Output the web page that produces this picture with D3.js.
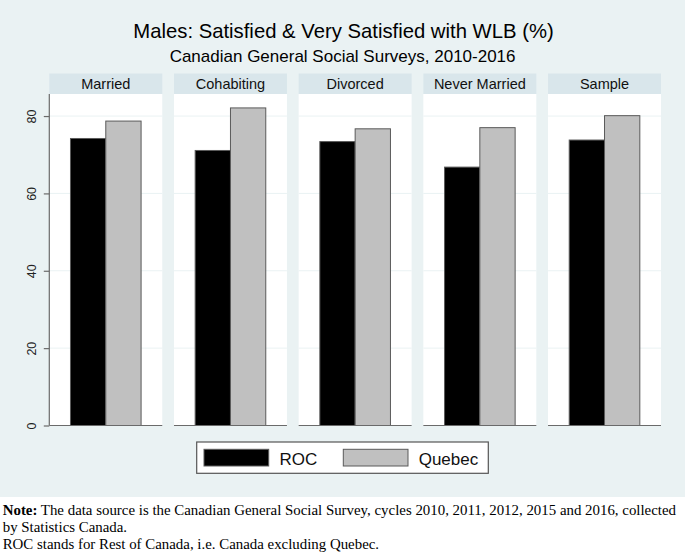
<!DOCTYPE html>
<html><head><meta charset="utf-8">
<script src="https://cdn.jsdelivr.net/npm/d3@7"></script>
<style>html,body{margin:0;padding:0;background:#fff}svg{display:block}</style>
</head><body>
<svg id="chart" width="685" height="557"></svg>
<script>
const categories = ["Married", "Cohabiting", "Divorced", "Never Married", "Sample"];
const series = ["ROC", "Quebec"];
const rocValues = [74.2, 71.1, 73.4, 66.8, 73.8];
const quebecValues = [78.7, 82.1, 76.7, 77.0, 80.1];
const yTicks = [0, 20, 40, 60, 80];
const titleText = "Males: Satisfied & Very Satisfied with WLB (%)";
const subtitleText = "Canadian General Social Surveys, 2010-2016";
const noteLines = [
  ["Note:", " The data source is the Canadian General Social Survey, cycles 2010, 2011, 2012, 2015 and 2016, collected"],
  ["", "by Statistics Canada."],
  ["", "ROC stands for Rest of Canada, i.e. Canada excluding Quebec."]
];

const seriesValues = {ROC: rocValues, Quebec: quebecValues};
const colors = {ROC: "#000000", Quebec: "#c0c0c0"};
const data = categories.map((c, i) => ({cat: c, values: series.map(s => ({key: s, value: seriesValues[s][i]}))}));

const svg = d3.select("#chart");
const sans = "'Liberation Sans', Arial, sans-serif";

// background
svg.append("rect").attr("x", 0).attr("y", 0).attr("width", 685).attr("height", 497).attr("fill", "#eaf2f3");

const plotTop = 94, plotBottom = 425.5, left = 49.3, right = 661;
const y = d3.scaleLinear().domain([0, 85.7]).range([plotBottom, plotTop]);
const x0 = d3.scaleBand().domain(categories).range([left, right]).paddingInner(0.094).paddingOuter(0);
const x1 = d3.scaleBand().domain(series).range([0, x0.bandwidth()]).paddingInner(0).paddingOuter(0.6);

// title
svg.append("text").attr("x", 343.5).attr("y", 37.7).attr("text-anchor", "middle")
  .style("font-family", sans).style("font-size", "20.3px").attr("fill", "#000").text(titleText);
svg.append("text").attr("x", 342.6).attr("y", 61.7).attr("text-anchor", "middle")
  .style("font-family", sans).style("font-size", "17px").attr("fill", "#000").text(subtitleText);

const panels = svg.append("g").selectAll("g").data(data).join("g")
  .attr("transform", d => `translate(${x0(d.cat)},0)`);

// strips
panels.append("rect").attr("x", 0).attr("y", 73.5).attr("width", x0.bandwidth()).attr("height", plotTop - 73.5)
  .attr("fill", "#d9e6eb");
panels.append("text").attr("x", x0.bandwidth() / 2).attr("y", 89).attr("text-anchor", "middle")
  .style("font-family", sans).style("font-size", "14.5px").attr("fill", "#111").text(d => d.cat);

// plot area
panels.append("rect").attr("x", 0).attr("y", plotTop).attr("width", x0.bandwidth()).attr("height", plotBottom - plotTop)
  .attr("fill", "#ffffff");

// grid
panels.each(function() {
  const g = d3.select(this);
  g.selectAll("line.grid").data(yTicks.filter(t => t > 0)).join("line").attr("class", "grid")
    .attr("x1", 0).attr("x2", x0.bandwidth()).attr("y1", d => y(d)).attr("y2", d => y(d))
    .attr("stroke", "#eaf2f3").attr("stroke-width", 1);
});

// bars
panels.selectAll("rect.bar").data(d => d.values).join("rect").attr("class", "bar")
  .attr("x", d => x1(d.key)).attr("width", x1.bandwidth())
  .attr("y", d => y(d.value)).attr("height", d => y(0) - y(d.value))
  .attr("fill", d => colors[d.key]).attr("stroke", "#5a5a5a").attr("stroke-width", 1);

// bottom axis line per panel
panels.append("line").attr("x1", 0).attr("x2", x0.bandwidth()).attr("y1", plotBottom).attr("y2", plotBottom)
  .attr("stroke", "#6a6a6a").attr("stroke-width", 1.2);

// y axis
const yAxis = d3.axisLeft(y).tickValues(yTicks).tickSize(5.5).tickPadding(11);
const ya = svg.append("g").attr("transform", `translate(${left},0)`).call(yAxis);
ya.select(".domain").attr("d", `M0,${plotTop}V${plotBottom}`).attr("stroke", "#6a6a6a").attr("stroke-width", 1.2);
ya.selectAll(".tick line").attr("stroke", "#6a6a6a").attr("stroke-width", 1.2);
ya.selectAll(".tick text").style("font-family", sans).style("font-size", "12.5px").attr("fill", "#222")
  .attr("x", null).attr("dy", null)
  .attr("text-anchor", "middle")
  .attr("transform", "translate(-18,0) rotate(-90)")
  .attr("y", 4.5);

// legend
const lg = svg.append("g");
lg.append("rect").attr("x", 196.7).attr("y", 442).attr("width", 291.6).attr("height", 31.3)
  .attr("fill", "#fff").attr("stroke", "#555").attr("stroke-width", 1.2);
const legendX = d3.scalePoint().domain(series).range([204, 343.3]);
const li = lg.selectAll("g").data(series).join("g").attr("transform", d => `translate(${legendX(d)},0)`);
li.append("rect").attr("x", 0).attr("y", 449.3).attr("width", 64.7).attr("height", 16.7)
  .attr("fill", d => colors[d]).attr("stroke", "#5a5a5a").attr("stroke-width", 1);
li.append("text").attr("x", 75.4).attr("y", 464.7).style("font-family", sans).style("font-size", "17px")
  .attr("fill", "#111").text(d => d);

// note
const serif = "'Liberation Serif', 'Times New Roman', serif";
const noteY = [515, 532.5, 549.3];
const noteG = svg.append("g");
noteLines.forEach((ln, i) => {
  const t = noteG.append("text").attr("x", 0).attr("y", noteY[i]).style("font-family", serif).style("font-size", "13.6px").attr("fill", "#000");
  if (ln[0]) t.append("tspan").style("font-weight", "bold").text(ln[0]);
  t.append("tspan").text(ln[1]);
});
// stretch note horizontally so the first line spans the same width as in the reference
const firstW = noteG.select("text").node().getComputedTextLength();
const sx = 673.3 / firstW;
noteG.attr("transform", `translate(2.7,0) scale(${sx},1)`);
</script>
</body></html>
